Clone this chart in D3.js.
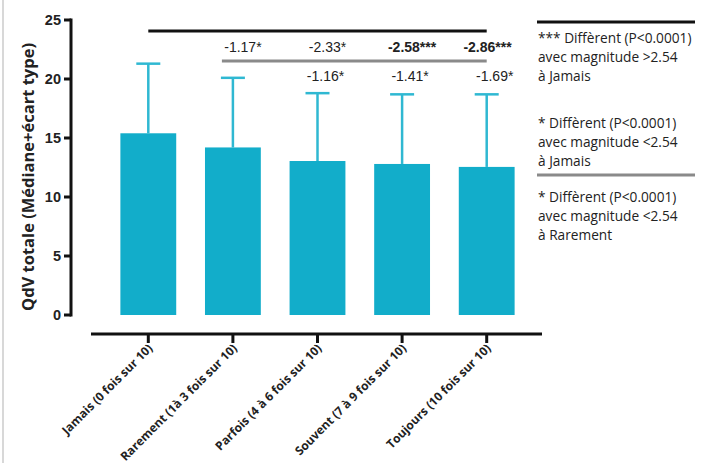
<!DOCTYPE html>
<html><head><meta charset="utf-8">
<script src="https://cdn.jsdelivr.net/npm/d3@7"></script>
<style>body{margin:0;background:#fff}svg{display:block}</style>
</head><body><svg id="c" width="702" height="463"></svg>
<script>
const categories = ["Jamais (0 fois sur 10)","Rarement (1à 3 fois sur 10)","Parfois (4 à 6 fois sur 10)","Souvent (7 à 9 fois sur 10)","Toujours (10 fois sur 10)"];
const medians = [15.4, 14.2, 13.05, 12.8, 12.55];
const errTops = [21.3, 20.1, 18.8, 18.7, 18.7];
const yTicks = [0,5,10,15,20,25];
const vsJamais = [null, "-1.17*", "-2.33*", "-2.58***", "-2.86***"];
const vsJamaisBold = [false,false,false,true,true];
const vsRarement = [null, null, "-1.16*", "-1.41*", "-1.69*"];
const legendBlocks = [
  ["*** Diffèrent (P<0.0001)","avec magnitude >2.54","à Jamais"],
  ["* Diffèrent (P<0.0001)","avec magnitude <2.54","à Jamais"],
  ["* Diffèrent (P<0.0001)","avec magnitude <2.54","à Rarement"]
];

const svg = d3.select("#c");
svg.append("line").attr("x1",3).attr("x2",3).attr("y1",0).attr("y2",463).attr("stroke","#d8d8d8").attr("stroke-width",2);

const y = d3.scaleLinear().domain([0,25]).range([315,20]);
const x = d3.scaleBand().domain(categories).range([106,529]).paddingInner(0.34).paddingOuter(0.17);
const cx = c => x(c) + x.bandwidth()/2;

// y axis
const yAxis = svg.append("g").attr("transform","translate(71,0)");
yAxis.append("line").attr("x1",0).attr("x2",0).attr("y1",y(25)-1.5).attr("y2",y(0)+1.5).attr("stroke","#111").attr("stroke-width",3);
yTicks.forEach(t=>{
  yAxis.append("line").attr("x1",-7).attr("x2",0).attr("y1",y(t)).attr("y2",y(t)).attr("stroke","#111").attr("stroke-width",3);
  yAxis.append("text").attr("x",-10).attr("y",y(t)).attr("dy","0.36em").attr("text-anchor","end")
    .attr("font-family","Liberation Sans, Arial, sans-serif").attr("font-weight","bold").attr("font-size",14.5).attr("fill","#222").text(t);
});
svg.append("text").attr("transform","translate(34,177) rotate(-90)").attr("text-anchor","middle")
  .attr("font-family","Open Sans, sans-serif").attr("font-weight","bold").attr("font-size",16.5).attr("fill","#222")
  .text("QdV totale (Médiane+écart type)");

// x axis
svg.append("line").attr("x1",91).attr("x2",542).attr("y1",334).attr("y2",334).attr("stroke","#111").attr("stroke-width",3);
categories.forEach(c=>{
  svg.append("line").attr("x1",cx(c)).attr("x2",cx(c)).attr("y1",334).attr("y2",343).attr("stroke","#111").attr("stroke-width",3);
  svg.append("text").attr("transform",`translate(${cx(c)+5},${349}) rotate(-45)`).attr("text-anchor","end")
    .attr("font-family","Open Sans, sans-serif").attr("font-weight","bold").attr("font-size",12).attr("fill","#222").text(c);
});

// error bars
categories.forEach((c,i)=>{
  svg.append("line").attr("x1",cx(c)).attr("x2",cx(c)).attr("y1",y(errTops[i])).attr("y2",y(medians[i])).attr("stroke","#2fb8d2").attr("stroke-width",2.5);
  svg.append("line").attr("x1",cx(c)-12).attr("x2",cx(c)+12).attr("y1",y(errTops[i])).attr("y2",y(errTops[i])).attr("stroke","#2fb8d2").attr("stroke-width",2.5);
});
// bars
svg.selectAll("rect.bar").data(categories).enter().append("rect").attr("class","bar")
  .attr("x",d=>x(d)).attr("width",x.bandwidth())
  .attr("y",(d,i)=>y(medians[i])).attr("height",(d,i)=>y(0)-y(medians[i]))
  .attr("fill","#12adca");

// significance lines
svg.append("line").attr("x1",cx(categories[0])).attr("x2",cx(categories[4])).attr("y1",31).attr("y2",31).attr("stroke","#111").attr("stroke-width",3);
svg.append("line").attr("x1",cx(categories[1])-11).attr("x2",cx(categories[4])).attr("y1",61).attr("y2",61).attr("stroke","#8a8a8a").attr("stroke-width",3);

categories.forEach((c,i)=>{
  if(vsJamais[i]){
    const last = i===categories.length-1;
    svg.append("text").attr("x", last ? cx(c)+25 : cx(c)+10).attr("y",52)
      .attr("text-anchor", last ? "end" : "middle")
      .attr("font-family","Liberation Sans, Arial, sans-serif").attr("font-size",14)
      .attr("font-weight",vsJamaisBold[i]?"bold":"normal").attr("fill","#222").text(vsJamais[i]);
  }
  if(vsRarement[i]){
    svg.append("text").attr("x",cx(c)+8).attr("y",81).attr("text-anchor","middle")
      .attr("font-family","Liberation Sans, Arial, sans-serif").attr("font-size",14).attr("fill","#222").text(vsRarement[i]);
  }
});

// legend
svg.append("line").attr("x1",537).attr("x2",695).attr("y1",22).attr("y2",22).attr("stroke","#111").attr("stroke-width",3);
svg.append("line").attr("x1",537).attr("x2",695).attr("y1",175).attr("y2",175).attr("stroke","#8a8a8a").attr("stroke-width",3);
const blockY = [43,128,202];
legendBlocks.forEach((b,bi)=>{
  b.forEach((t,li)=>{
    svg.append("text").attr("x",538).attr("y",blockY[bi]+li*19)
      .attr("font-family","Open Sans, sans-serif").attr("font-size",13.7).attr("fill","#222").text(t);
  });
});
</script></body></html>
